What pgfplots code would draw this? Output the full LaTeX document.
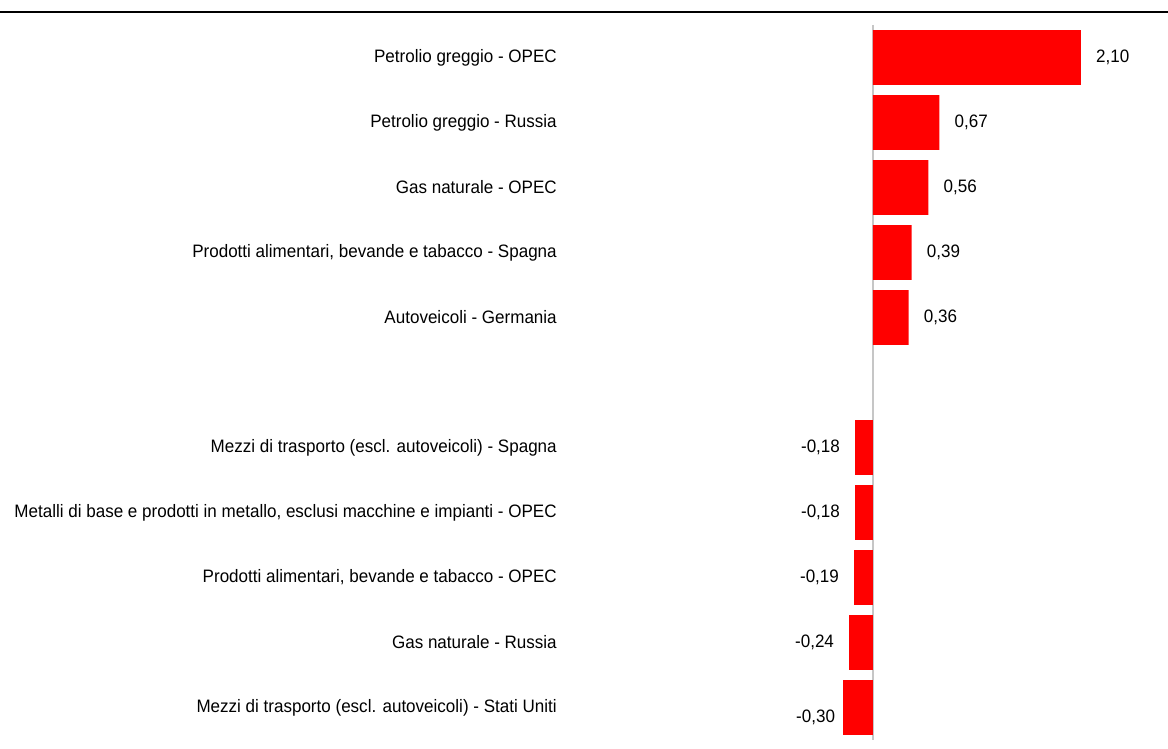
\documentclass[border=0pt]{standalone}
\usepackage{pgfplots}
\pgfplotsset{compat=1.18}
\usepackage{fontspec}
\setmainfont{Liberation Sans}[FakeStretch=0.946]
\begin{document}
\begin{tikzpicture}
\useasboundingbox (0,0) rectangle (876pt,561.75pt);
\draw[black, line width=1.5pt] (0,552.75pt) -- (876pt,552.75pt);
\begin{axis}[
  at={(425.25pt,6.75pt)}, anchor=south west,
  scale only axis, width=450.75pt, height=536.25pt,
  xmin=-3.0909, xmax=2.98, ymin=-0.5, ymax=10.5,
  y dir=reverse,
  xbar, bar width=0.846, bar shift=0pt,
  axis line style={draw=none},
  major tick length=0pt,
  xtick=\empty,
  ytick={0,1,2,3,4,6,7,8,9,10},
  yticklabels={Petrolio greggio - OPEC, Petrolio greggio - Russia, Gas naturale - OPEC, {Prodotti alimentari, bevande e tabacco - Spagna}, Autoveicoli - Germania, Mezzi di trasporto (escl. autoveicoli) - Spagna, {Metalli di base e prodotti in metallo, esclusi macchine e impianti - OPEC}, {Prodotti alimentari, bevande e tabacco - OPEC}, Gas naturale - Russia, Mezzi di trasporto (escl. autoveicoli) - Stati Uniti},
  yticklabel style={font=\fontsize{13.5}{15}\selectfont, anchor=east, inner sep=0pt, xshift=-7.5pt},
  clip=false,
  point meta=explicit symbolic,
  nodes near coords,
  every node near coord/.append style={font=\fontsize{13.5}{15}\selectfont, inner sep=0pt, text=black},
]
\draw[gray!45, line width=0.9pt] (axis cs:0,-0.5) -- (axis cs:0,10.5);
\addplot[fill=red, draw=none, nodes near coords style={anchor=west, xshift=11.25pt}] table[x=v, y=k, meta=lab] {
v k lab
2.10 0 2,10
0.67 1 0,67
0.56 2 0,56
0.39 3 0,39
0.36 4 0,36
};
\addplot[fill=red, draw=none, nodes near coords style={anchor=east, xshift=-11.25pt}] table[x=v, y=k, meta=lab] {
v k lab
-0.18 6 -0,18
-0.18 7 -0,18
-0.19 8 -0,19
-0.24 9 -0,24
};
\addplot[fill=red, draw=none, nodes near coords style={anchor=east, xshift=-6pt, yshift=-7.5pt}] table[x=v, y=k, meta=lab] {
v k lab
-0.30 10 -0,30
};
\end{axis}
\end{tikzpicture}
\end{document}
